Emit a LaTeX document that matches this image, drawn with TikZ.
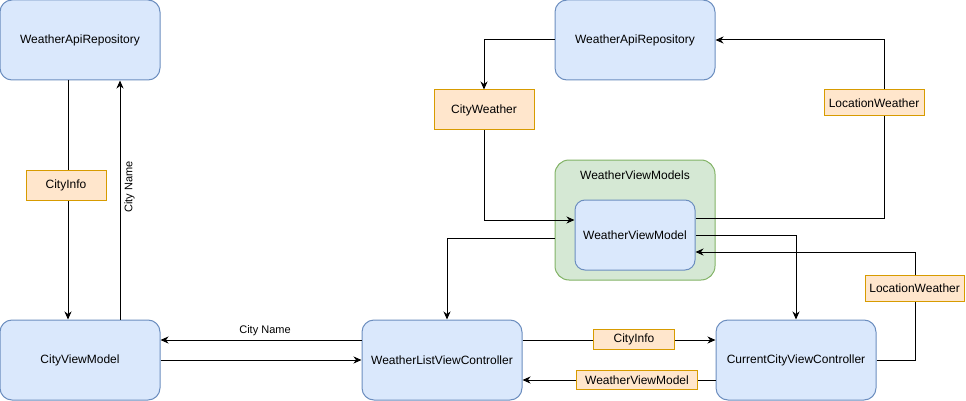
\documentclass[tikz,border=0pt]{standalone}
\usepackage{fontspec}
\setmainfont{Liberation Sans}
\usetikzlibrary{arrows.meta}
\definecolor{bluefill}{HTML}{DAE8FC}
\definecolor{bluedraw}{HTML}{6C8EBF}
\definecolor{orangefill}{HTML}{FFE6CC}
\definecolor{orangedraw}{HTML}{D79B00}
\definecolor{greenfill}{HTML}{D5E8D4}
\definecolor{greendraw}{HTML}{82B366}
\tikzset{
  bluebox/.style={draw=bluedraw, fill=bluefill, line width=1pt, rounded corners=12pt,
    minimum width=160pt, minimum height=80pt, inner sep=0pt, font=\fontsize{12pt}{14pt}\selectfont},
  greenbox/.style={draw=greendraw, fill=greenfill, line width=1pt, rounded corners=14pt,
    minimum width=160pt, minimum height=120pt, inner sep=0pt},
  orangebox/.style={draw=orangedraw, fill=orangefill, line width=1pt, inner sep=0pt,
    font=\fontsize{12pt}{14pt}\selectfont},
  edgelabel/.style={inner sep=0pt, font=\fontsize{11pt}{13pt}\selectfont},
  arr/.style={draw=black, line width=1pt, -{Stealth[length=8pt,width=7pt,inset=2.5pt]}},
}
\begin{document}
\begin{tikzpicture}[x=1pt,y=-1pt]
\useasboundingbox (0,0) rectangle (966,401);
% main boxes
\node[bluebox] (lwar) at (80,40) {WeatherApiRepository};
\node[bluebox] (cvm) at (80,360) {CityViewModel};
\node[bluebox] (wlvc) at (442,360) {WeatherListViewController};
\node[bluebox] (ccvc) at (796,360) {CurrentCityViewController};
\node[bluebox] (rwar) at (635,40) {WeatherApiRepository};
\node[greenbox] (grp) at (635,220) {};
\node[inner sep=0pt, font=\fontsize{12pt}{14pt}\selectfont] (grplabel) at (635,175) {WeatherViewModels};
\node[bluebox, minimum width=120pt, minimum height=70pt, rounded corners=10pt] (wvm) at (635,235) {WeatherViewModel};
\node[orangebox, minimum width=100pt, minimum height=40pt] (cw) at (484,110) {CityWeather};
% edges
\draw[arr] ([xshift=-12pt]lwar.south) -- ([xshift=-12pt]cvm.north);
\draw[arr] ([xshift=40pt]cvm.north) -- node[pos=0.554, xshift=9.5pt, rotate=90, edgelabel] (lblcn1) {City Name} ([xshift=40pt]lwar.south);
\draw[arr] ([yshift=20pt]wlvc.west) -- node[pos=0.48, yshift=9pt, edgelabel] (lblcn2) {City Name} ([yshift=20pt]cvm.east);
\draw[arr] (cvm.east) -- (wlvc.west);
\draw[arr] (rwar.west) -| (cw.north);
\draw[arr] (cw.south) |- ([yshift=15pt]wvm.west);
\draw[arr] ([yshift=17pt]wvm.east) -- ++(189,0) |- (rwar.east);
\draw[arr] (wvm.east) -| (ccvc.north);
\draw[arr] ([yshift=-18pt]grp.west) -| ([xshift=5pt]wlvc.north);
\draw[arr] (ccvc.east) -- ++(38.6,0) |- ([yshift=-17pt]wvm.east);
\draw[arr] ([yshift=20pt]wlvc.east) -- ([yshift=20pt]ccvc.west);
\draw[arr] ([yshift=-20pt]ccvc.west) -- ([yshift=-20pt]wlvc.east);
% labels on edges
\node[orangebox, minimum width=80pt, minimum height=30pt] (ci1) at (66,185) {CityInfo};
\node[orangebox, minimum width=100pt, minimum height=26pt] (lw1) at (874,103) {LocationWeather};
\node[orangebox, minimum width=99pt, minimum height=26pt] (lw2) at (914.6,288) {LocationWeather};
\node[orangebox, minimum width=81pt, minimum height=20pt] (ci2) at (634,339) {CityInfo};
\node[orangebox, minimum width=121pt, minimum height=19pt] (wvml) at (637,380) {WeatherViewModel};
\end{tikzpicture}
\end{document}
